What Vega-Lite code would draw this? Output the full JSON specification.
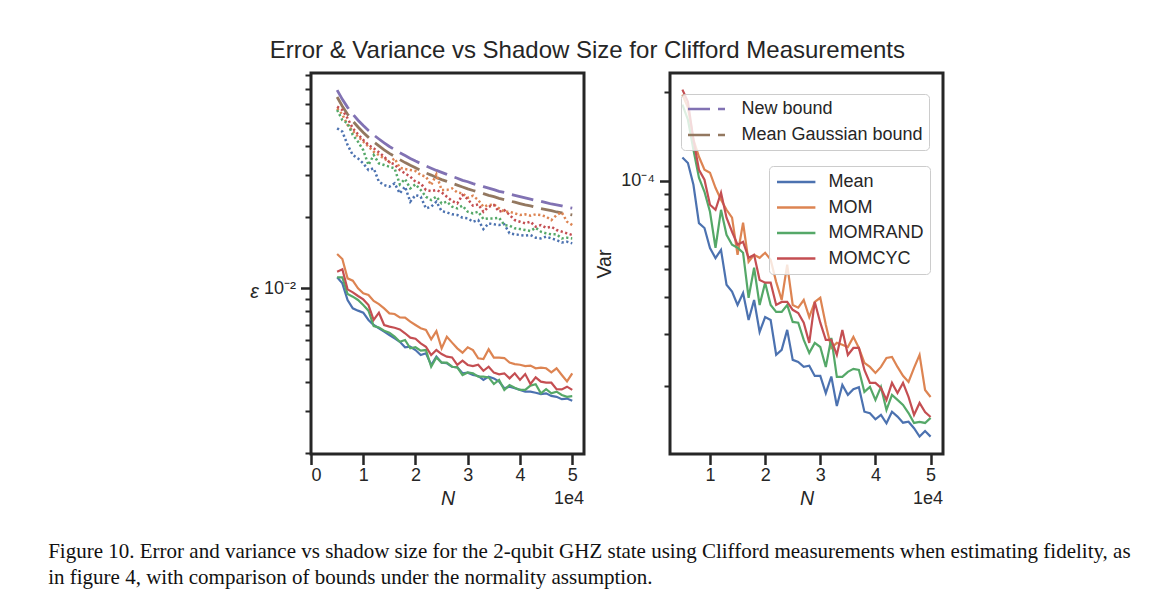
{
"$schema": "https://vega.github.io/schema/vega-lite/v6.json",
"background": "white",
"padding": {"left": 48, "top": 39, "right": 10, "bottom": 10},
"config": {
  "font": "Liberation Sans",
  "view": {"stroke": "#262626", "strokeWidth": 3},
  "axis": {"domain": false, "grid": false, "labelFont": "Liberation Sans", "labelFontSize": 18, "labelColor": "#262626", "titleFont": "Liberation Sans", "titleFontSize": 19.6, "titleFontWeight": "normal", "titleColor": "#262626", "tickColor": "#262626", "tickWidth": 2.5, "tickSize": 10.5, "labelPadding": 5, "labelOverlap": false},
  "legend": {"labelFont": "Liberation Sans", "labelFontSize": 18, "labelColor": "#262626", "labelLimit": 400, "strokeColor": "#cccccc", "fillColor": "rgba(255,255,255,0.8)", "cornerRadius": 4, "padding": 5.5, "symbolSize": 256},
  "title": {"font": "Liberation Sans", "color": "#262626", "fontWeight": "normal"}
},
"title": {"text": ["Figure 10. Error and variance vs shadow size for the 2-qubit GHZ state using Clifford measurements when estimating fidelity, as", "in figure 4, with comparison of bounds under the normality assumption."], "orient": "bottom", "anchor": "start", "font": "Liberation Serif", "fontSize": 21, "fontWeight": "normal", "color": "#111111", "lineHeight": 26, "dx": -200, "offset": 31},
"vconcat": [{
  "title": {"text": "Error & Variance vs Shadow Size for Clifford Measurements", "fontSize": 24, "anchor": "middle", "offset": 1, "dx": -9},
  "spacing": 7,
  "resolve": {"scale": {"color": "independent", "stroke": "independent"}, "legend": {"color": "independent", "stroke": "independent"}},
  "hconcat": [
    {
      "width": 273, "height": 381,
      "title": {"text": "1e4", "orient": "bottom", "anchor": "end", "frame": "group", "fontSize": 18, "offset": -18},
      "encoding": {
        "x": {"field": "N", "type": "quantitative", "scale": {"domain": [0, 52250], "nice": false, "zero": false}, "axis": {"title": "N", "titleFontStyle": "italic", "values": [0, 10000, 20000, 30000, 40000, 50000], "labelExpr": "format(datum.value/10000,'d')", "labelPadding": 2, "titlePadding": 5}},
        "y": {"field": "value", "type": "quantitative", "scale": {"type": "log", "domain": [0.00198, 0.0815], "nice": false}, "axis": {"title": "ε", "titleFontStyle": "italic", "titleAngle": 0, "titleAlign": "center", "titleBaseline": "middle", "titleX": -57, "titleY": 218, "values": [0.002, 0.003, 0.004, 0.005, 0.006, 0.007, 0.008, 0.009, 0.01, 0.02, 0.03, 0.04, 0.05, 0.06, 0.07, 0.08], "labelExpr": "abs(datum.value-0.01)<1e-9 ? '10⁻²' : ''", "tickSize": {"condition": {"test": "abs(datum.value-0.01)<1e-9", "value": 10.5}, "value": 6}, "tickWidth": {"condition": {"test": "abs(datum.value-0.01)<1e-9", "value": 2.5}, "value": 2}}}
      },
      "layer": [
        {"data": {"name": "bounds"}, "mark": {"type": "line", "strokeDash": [22, 8], "strokeWidth": 2.8}, "encoding": {"stroke": {"field": "series", "type": "nominal", "scale": {"domain": ["New bound", "Mean Gaussian bound"], "range": ["#8172B3", "#937860"]}, "legend": null}}},
        {"data": {"name": "errbound"}, "mark": {"type": "line", "strokeDash": [2.2, 2.5], "strokeWidth": 2.5}, "encoding": {"color": {"field": "series", "type": "nominal", "scale": {"domain": ["Mean", "MOM", "MOMRAND", "MOMCYC"], "range": ["#4C72B0", "#DD8452", "#55A868", "#C44E52"]}, "legend": null}}},
        {"data": {"name": "err"}, "mark": {"type": "line", "strokeWidth": 2.2}, "encoding": {"color": {"field": "series", "type": "nominal", "scale": {"domain": ["Mean", "MOM", "MOMRAND", "MOMCYC"], "range": ["#4C72B0", "#DD8452", "#55A868", "#C44E52"]}, "legend": null}}}
      ]
    },
    {
      "width": 273, "height": 381,
      "title": {"text": "1e4", "orient": "bottom", "anchor": "end", "frame": "group", "fontSize": 18, "offset": -18},
      "encoding": {
        "x": {"field": "N", "type": "quantitative", "scale": {"domain": [2750, 52250], "nice": false, "zero": false}, "axis": {"title": "N", "titleFontStyle": "italic", "values": [10000, 20000, 30000, 40000, 50000], "labelExpr": "format(datum.value/10000,'d')", "labelPadding": 2, "titlePadding": 5}},
        "y": {"field": "value", "type": "quantitative", "scale": {"type": "log", "domain": [1.17e-5, 2.33e-4], "nice": false}, "axis": {"title": "Var", "titlePadding": 6, "values": [2e-5, 3e-5, 4e-5, 5e-5, 6e-5, 7e-5, 8e-5, 9e-5, 1e-4, 2e-4], "labelExpr": "abs(datum.value-1e-4)<1e-12 ? '10⁻⁴' : ''", "tickSize": {"condition": {"test": "abs(datum.value-1e-4)<1e-12", "value": 10.5}, "value": 6}, "tickWidth": {"condition": {"test": "abs(datum.value-1e-4)<1e-12", "value": 2.5}, "value": 2}}}
      },
      "layer": [
        {"data": {"name": "var"}, "mark": {"type": "line", "strokeWidth": 2.2}, "encoding": {"color": {"field": "series", "type": "nominal", "scale": {"domain": ["Mean", "MOM", "MOMRAND", "MOMCYC"], "range": ["#4C72B0", "#DD8452", "#55A868", "#C44E52"]}, "legend": {"orient": "none", "legendX": 99, "legendY": 93, "title": null, "symbolType": "M-1,0H3.8", "symbolStrokeWidth": 2.3, "labelOffset": 34, "rowPadding": 6.5, "padding": 6.5}}}},
        {"data": {"name": "bounds"}, "transform": [{"filter": "datum.N < 0"}], "mark": {"type": "line", "strokeDash": [22, 8], "strokeWidth": 2.8}, "encoding": {"stroke": {"field": "series", "type": "nominal", "scale": {"domain": ["New bound", "Mean Gaussian bound"], "range": ["#8172B3", "#937860"]}, "legend": {"orient": "none", "legendX": 11, "legendY": 21, "title": null, "symbolType": "M-1,0H3.625", "symbolDash": [22, 8], "symbolStrokeWidth": 2.5, "labelOffset": 36, "rowPadding": 7}}}}
      ]
    }
  ]
}],
"datasets": {
"err": [
{"N":5000,"series":"Mean","value":0.0111},{"N":6000,"series":"Mean","value":0.01047},{"N":7000,"series":"Mean","value":0.0089},{"N":8000,"series":"Mean","value":0.0082},{"N":9000,"series":"Mean","value":0.00802},{"N":10000,"series":"Mean","value":0.00786},{"N":11000,"series":"Mean","value":0.00732},{"N":12000,"series":"Mean","value":0.00697},{"N":13000,"series":"Mean","value":0.00675},{"N":14000,"series":"Mean","value":0.00653},{"N":15000,"series":"Mean","value":0.00632},{"N":16000,"series":"Mean","value":0.00612},{"N":17000,"series":"Mean","value":0.00592},{"N":18000,"series":"Mean","value":0.00561},{"N":19000,"series":"Mean","value":0.00564},{"N":20000,"series":"Mean","value":0.00546},{"N":21000,"series":"Mean","value":0.0052},{"N":22000,"series":"Mean","value":0.00529},{"N":23000,"series":"Mean","value":0.00472},{"N":24000,"series":"Mean","value":0.00512},{"N":25000,"series":"Mean","value":0.00483},{"N":26000,"series":"Mean","value":0.0048},{"N":27000,"series":"Mean","value":0.00464},{"N":28000,"series":"Mean","value":0.00461},{"N":29000,"series":"Mean","value":0.00435},{"N":30000,"series":"Mean","value":0.00438},{"N":31000,"series":"Mean","value":0.00428},{"N":32000,"series":"Mean","value":0.00424},{"N":33000,"series":"Mean","value":0.00408},{"N":34000,"series":"Mean","value":0.00421},{"N":35000,"series":"Mean","value":0.00414},{"N":36000,"series":"Mean","value":0.00401},{"N":37000,"series":"Mean","value":0.00376},{"N":38000,"series":"Mean","value":0.00382},{"N":39000,"series":"Mean","value":0.00376},{"N":40000,"series":"Mean","value":0.0037},{"N":41000,"series":"Mean","value":0.00364},{"N":42000,"series":"Mean","value":0.00364},{"N":43000,"series":"Mean","value":0.0036},{"N":44000,"series":"Mean","value":0.00355},{"N":45000,"series":"Mean","value":0.00358},{"N":46000,"series":"Mean","value":0.00349},{"N":47000,"series":"Mean","value":0.00346},{"N":48000,"series":"Mean","value":0.00338},{"N":49000,"series":"Mean","value":0.0034},{"N":50000,"series":"Mean","value":0.00333},
{"N":5000,"series":"MOM","value":0.01393},{"N":6000,"series":"MOM","value":0.01327},{"N":7000,"series":"MOM","value":0.01099},{"N":8000,"series":"MOM","value":0.01074},{"N":9000,"series":"MOM","value":0.00997},{"N":10000,"series":"MOM","value":0.00949},{"N":11000,"series":"MOM","value":0.00934},{"N":12000,"series":"MOM","value":0.00881},{"N":13000,"series":"MOM","value":0.00855},{"N":14000,"series":"MOM","value":0.0082},{"N":15000,"series":"MOM","value":0.00781},{"N":16000,"series":"MOM","value":0.00776},{"N":17000,"series":"MOM","value":0.00751},{"N":18000,"series":"MOM","value":0.00749},{"N":19000,"series":"MOM","value":0.0072},{"N":20000,"series":"MOM","value":0.00697},{"N":21000,"series":"MOM","value":0.00675},{"N":22000,"series":"MOM","value":0.00664},{"N":23000,"series":"MOM","value":0.00606},{"N":24000,"series":"MOM","value":0.00657},{"N":25000,"series":"MOM","value":0.00555},{"N":26000,"series":"MOM","value":0.00622},{"N":27000,"series":"MOM","value":0.00587},{"N":28000,"series":"MOM","value":0.00555},{"N":29000,"series":"MOM","value":0.00532},{"N":30000,"series":"MOM","value":0.00561},{"N":31000,"series":"MOM","value":0.00546},{"N":32000,"series":"MOM","value":0.00504},{"N":33000,"series":"MOM","value":0.005},{"N":34000,"series":"MOM","value":0.0055},{"N":35000,"series":"MOM","value":0.00507},{"N":36000,"series":"MOM","value":0.00507},{"N":37000,"series":"MOM","value":0.00505},{"N":38000,"series":"MOM","value":0.00483},{"N":39000,"series":"MOM","value":0.00476},{"N":40000,"series":"MOM","value":0.00473},{"N":41000,"series":"MOM","value":0.00467},{"N":42000,"series":"MOM","value":0.00469},{"N":43000,"series":"MOM","value":0.00457},{"N":44000,"series":"MOM","value":0.0046},{"N":45000,"series":"MOM","value":0.00457},{"N":46000,"series":"MOM","value":0.00439},{"N":47000,"series":"MOM","value":0.00457},{"N":48000,"series":"MOM","value":0.00428},{"N":49000,"series":"MOM","value":0.00402},{"N":50000,"series":"MOM","value":0.00435},
{"N":5000,"series":"MOMRAND","value":0.0111},{"N":6000,"series":"MOMRAND","value":0.0111},{"N":7000,"series":"MOMRAND","value":0.00943},{"N":8000,"series":"MOMRAND","value":0.00919},{"N":9000,"series":"MOMRAND","value":0.0089},{"N":10000,"series":"MOMRAND","value":0.00847},{"N":11000,"series":"MOMRAND","value":0.00802},{"N":12000,"series":"MOMRAND","value":0.0069},{"N":13000,"series":"MOMRAND","value":0.00681},{"N":14000,"series":"MOMRAND","value":0.00659},{"N":15000,"series":"MOMRAND","value":0.00647},{"N":16000,"series":"MOMRAND","value":0.00622},{"N":17000,"series":"MOMRAND","value":0.00592},{"N":18000,"series":"MOMRAND","value":0.00602},{"N":19000,"series":"MOMRAND","value":0.00555},{"N":20000,"series":"MOMRAND","value":0.00561},{"N":21000,"series":"MOMRAND","value":0.00543},{"N":22000,"series":"MOMRAND","value":0.00546},{"N":23000,"series":"MOMRAND","value":0.00464},{"N":24000,"series":"MOMRAND","value":0.00508},{"N":25000,"series":"MOMRAND","value":0.00483},{"N":26000,"series":"MOMRAND","value":0.00483},{"N":27000,"series":"MOMRAND","value":0.00464},{"N":28000,"series":"MOMRAND","value":0.00461},{"N":29000,"series":"MOMRAND","value":0.00428},{"N":30000,"series":"MOMRAND","value":0.00439},{"N":31000,"series":"MOMRAND","value":0.00435},{"N":32000,"series":"MOMRAND","value":0.00421},{"N":33000,"series":"MOMRAND","value":0.00421},{"N":34000,"series":"MOMRAND","value":0.00418},{"N":35000,"series":"MOMRAND","value":0.00392},{"N":36000,"series":"MOMRAND","value":0.00408},{"N":37000,"series":"MOMRAND","value":0.0037},{"N":38000,"series":"MOMRAND","value":0.00388},{"N":39000,"series":"MOMRAND","value":0.00378},{"N":40000,"series":"MOMRAND","value":0.0037},{"N":41000,"series":"MOMRAND","value":0.0037},{"N":42000,"series":"MOMRAND","value":0.00386},{"N":43000,"series":"MOMRAND","value":0.00391},{"N":44000,"series":"MOMRAND","value":0.00358},{"N":45000,"series":"MOMRAND","value":0.00373},{"N":46000,"series":"MOMRAND","value":0.00358},{"N":47000,"series":"MOMRAND","value":0.00364},{"N":48000,"series":"MOMRAND","value":0.00352},{"N":49000,"series":"MOMRAND","value":0.00346},{"N":50000,"series":"MOMRAND","value":0.00348},
{"N":5000,"series":"MOMCYC","value":0.01173},{"N":6000,"series":"MOMCYC","value":0.012},{"N":7000,"series":"MOMCYC","value":0.00987},{"N":8000,"series":"MOMCYC","value":0.00959},{"N":9000,"series":"MOMCYC","value":0.00925},{"N":10000,"series":"MOMCYC","value":0.00895},{"N":11000,"series":"MOMCYC","value":0.00847},{"N":12000,"series":"MOMCYC","value":0.00732},{"N":13000,"series":"MOMCYC","value":0.00786},{"N":14000,"series":"MOMCYC","value":0.00697},{"N":15000,"series":"MOMCYC","value":0.00686},{"N":16000,"series":"MOMCYC","value":0.00679},{"N":17000,"series":"MOMCYC","value":0.00668},{"N":18000,"series":"MOMCYC","value":0.00643},{"N":19000,"series":"MOMCYC","value":0.00616},{"N":20000,"series":"MOMCYC","value":0.0061},{"N":21000,"series":"MOMCYC","value":0.00583},{"N":22000,"series":"MOMCYC","value":0.00564},{"N":23000,"series":"MOMCYC","value":0.0052},{"N":24000,"series":"MOMCYC","value":0.00546},{"N":25000,"series":"MOMCYC","value":0.00525},{"N":26000,"series":"MOMCYC","value":0.00512},{"N":27000,"series":"MOMCYC","value":0.00508},{"N":28000,"series":"MOMCYC","value":0.00472},{"N":29000,"series":"MOMCYC","value":0.00492},{"N":30000,"series":"MOMCYC","value":0.00472},{"N":31000,"series":"MOMCYC","value":0.00467},{"N":32000,"series":"MOMCYC","value":0.00473},{"N":33000,"series":"MOMCYC","value":0.00446},{"N":34000,"series":"MOMCYC","value":0.00464},{"N":35000,"series":"MOMCYC","value":0.00438},{"N":36000,"series":"MOMCYC","value":0.00431},{"N":37000,"series":"MOMCYC","value":0.00435},{"N":38000,"series":"MOMCYC","value":0.00414},{"N":39000,"series":"MOMCYC","value":0.00435},{"N":40000,"series":"MOMCYC","value":0.00408},{"N":41000,"series":"MOMCYC","value":0.00432},{"N":42000,"series":"MOMCYC","value":0.00392},{"N":43000,"series":"MOMCYC","value":0.00418},{"N":44000,"series":"MOMCYC","value":0.00401},{"N":45000,"series":"MOMCYC","value":0.00397},{"N":46000,"series":"MOMCYC","value":0.00397},{"N":47000,"series":"MOMCYC","value":0.00373},{"N":48000,"series":"MOMCYC","value":0.00372},{"N":49000,"series":"MOMCYC","value":0.00382},{"N":50000,"series":"MOMCYC","value":0.0037}
],
"errbound": [
{"N":5000,"series":"Mean","value":0.0475},{"N":6000,"series":"Mean","value":0.046},{"N":7000,"series":"Mean","value":0.0404},{"N":8000,"series":"Mean","value":0.0366},{"N":9000,"series":"Mean","value":0.0354},{"N":10000,"series":"Mean","value":0.03374},{"N":11000,"series":"Mean","value":0.03162},{"N":12000,"series":"Mean","value":0.03214},{"N":13000,"series":"Mean","value":0.02822},{"N":14000,"series":"Mean","value":0.02732},{"N":15000,"series":"Mean","value":0.02688},{"N":16000,"series":"Mean","value":0.02776},{"N":17000,"series":"Mean","value":0.02518},{"N":18000,"series":"Mean","value":0.02688},{"N":19000,"series":"Mean","value":0.02322},{"N":20000,"series":"Mean","value":0.02478},{"N":21000,"series":"Mean","value":0.02438},{"N":22000,"series":"Mean","value":0.02175},{"N":23000,"series":"Mean","value":0.02211},{"N":24000,"series":"Mean","value":0.02322},{"N":25000,"series":"Mean","value":0.02119},{"N":26000,"series":"Mean","value":0.02092},{"N":27000,"series":"Mean","value":0.02052},{"N":28000,"series":"Mean","value":0.02039},{"N":29000,"series":"Mean","value":0.01986},{"N":30000,"series":"Mean","value":0.01973},{"N":31000,"series":"Mean","value":0.0191},{"N":32000,"series":"Mean","value":0.01941},{"N":33000,"series":"Mean","value":0.01778},{"N":34000,"series":"Mean","value":0.01879},{"N":35000,"series":"Mean","value":0.01861},{"N":36000,"series":"Mean","value":0.01849},{"N":37000,"series":"Mean","value":0.01861},{"N":38000,"series":"Mean","value":0.01705},{"N":39000,"series":"Mean","value":0.01688},{"N":40000,"series":"Mean","value":0.01677},{"N":41000,"series":"Mean","value":0.01667},{"N":42000,"series":"Mean","value":0.01677},{"N":43000,"series":"Mean","value":0.01634},{"N":44000,"series":"Mean","value":0.01623},{"N":45000,"series":"Mean","value":0.0165},{"N":46000,"series":"Mean","value":0.01623},{"N":47000,"series":"Mean","value":0.01597},{"N":48000,"series":"Mean","value":0.01561},{"N":49000,"series":"Mean","value":0.01571},{"N":50000,"series":"Mean","value":0.01546},
{"N":5000,"series":"MOM","value":0.0577},{"N":6000,"series":"MOM","value":0.0544},{"N":7000,"series":"MOM","value":0.0491},{"N":8000,"series":"MOM","value":0.0463},{"N":9000,"series":"MOM","value":0.0438},{"N":10000,"series":"MOM","value":0.0417},{"N":11000,"series":"MOM","value":0.0397},{"N":12000,"series":"MOM","value":0.0378},{"N":13000,"series":"MOM","value":0.0366},{"N":14000,"series":"MOM","value":0.0354},{"N":15000,"series":"MOM","value":0.0341},{"N":16000,"series":"MOM","value":0.0354},{"N":17000,"series":"MOM","value":0.03235},{"N":18000,"series":"MOM","value":0.03193},{"N":19000,"series":"MOM","value":0.03162},{"N":20000,"series":"MOM","value":0.03132},{"N":21000,"series":"MOM","value":0.03011},{"N":22000,"series":"MOM","value":0.02963},{"N":23000,"series":"MOM","value":0.02732},{"N":24000,"series":"MOM","value":0.03031},{"N":25000,"series":"MOM","value":0.02602},{"N":26000,"series":"MOM","value":0.02602},{"N":27000,"series":"MOM","value":0.02644},{"N":28000,"series":"MOM","value":0.02543},{"N":29000,"series":"MOM","value":0.02518},{"N":30000,"series":"MOM","value":0.02414},{"N":31000,"series":"MOM","value":0.02461},{"N":32000,"series":"MOM","value":0.0236},{"N":33000,"series":"MOM","value":0.02211},{"N":34000,"series":"MOM","value":0.02247},{"N":35000,"series":"MOM","value":0.02262},{"N":36000,"series":"MOM","value":0.02175},{"N":37000,"series":"MOM","value":0.02105},{"N":38000,"series":"MOM","value":0.02105},{"N":39000,"series":"MOM","value":0.02072},{"N":40000,"series":"MOM","value":0.02039},{"N":41000,"series":"MOM","value":0.02052},{"N":42000,"series":"MOM","value":0.02026},{"N":43000,"series":"MOM","value":0.02052},{"N":44000,"series":"MOM","value":0.02039},{"N":45000,"series":"MOM","value":0.02006},{"N":46000,"series":"MOM","value":0.01941},{"N":47000,"series":"MOM","value":0.02039},{"N":48000,"series":"MOM","value":0.02092},{"N":49000,"series":"MOM","value":0.0191},{"N":50000,"series":"MOM","value":0.01849},
{"N":5000,"series":"MOMRAND","value":0.0568},{"N":6000,"series":"MOMRAND","value":0.0515},{"N":7000,"series":"MOMRAND","value":0.0499},{"N":8000,"series":"MOMRAND","value":0.0445},{"N":9000,"series":"MOMRAND","value":0.0417},{"N":10000,"series":"MOMRAND","value":0.0384},{"N":11000,"series":"MOMRAND","value":0.0332},{"N":12000,"series":"MOMRAND","value":0.0366},{"N":13000,"series":"MOMRAND","value":0.03374},{"N":14000,"series":"MOMRAND","value":0.0332},{"N":15000,"series":"MOMRAND","value":0.03267},{"N":16000,"series":"MOMRAND","value":0.03214},{"N":17000,"series":"MOMRAND","value":0.0275},{"N":18000,"series":"MOMRAND","value":0.02896},{"N":19000,"series":"MOMRAND","value":0.02644},{"N":20000,"series":"MOMRAND","value":0.0275},{"N":21000,"series":"MOMRAND","value":0.02602},{"N":22000,"series":"MOMRAND","value":0.02438},{"N":23000,"series":"MOMRAND","value":0.0236},{"N":24000,"series":"MOMRAND","value":0.02438},{"N":25000,"series":"MOMRAND","value":0.02284},{"N":26000,"series":"MOMRAND","value":0.02322},{"N":27000,"series":"MOMRAND","value":0.02211},{"N":28000,"series":"MOMRAND","value":0.02175},{"N":29000,"series":"MOMRAND","value":0.02233},{"N":30000,"series":"MOMRAND","value":0.02105},{"N":31000,"series":"MOMRAND","value":0.02072},{"N":32000,"series":"MOMRAND","value":0.02105},{"N":33000,"series":"MOMRAND","value":0.0196},{"N":34000,"series":"MOMRAND","value":0.01973},{"N":35000,"series":"MOMRAND","value":0.01973},{"N":36000,"series":"MOMRAND","value":0.01986},{"N":37000,"series":"MOMRAND","value":0.01849},{"N":38000,"series":"MOMRAND","value":0.01837},{"N":39000,"series":"MOMRAND","value":0.0179},{"N":40000,"series":"MOMRAND","value":0.01778},{"N":41000,"series":"MOMRAND","value":0.01761},{"N":42000,"series":"MOMRAND","value":0.01744},{"N":43000,"series":"MOMRAND","value":0.01801},{"N":44000,"series":"MOMRAND","value":0.01733},{"N":45000,"series":"MOMRAND","value":0.01705},{"N":46000,"series":"MOMRAND","value":0.01688},{"N":47000,"series":"MOMRAND","value":0.01688},{"N":48000,"series":"MOMRAND","value":0.01623},{"N":49000,"series":"MOMRAND","value":0.01634},{"N":50000,"series":"MOMRAND","value":0.01623},
{"N":5000,"series":"MOMCYC","value":0.0587},{"N":6000,"series":"MOMCYC","value":0.0568},{"N":7000,"series":"MOMCYC","value":0.0524},{"N":8000,"series":"MOMCYC","value":0.0475},{"N":9000,"series":"MOMCYC","value":0.0448},{"N":10000,"series":"MOMCYC","value":0.0424},{"N":11000,"series":"MOMCYC","value":0.0404},{"N":12000,"series":"MOMCYC","value":0.0391},{"N":13000,"series":"MOMCYC","value":0.0376},{"N":14000,"series":"MOMCYC","value":0.036},{"N":15000,"series":"MOMCYC","value":0.0341},{"N":16000,"series":"MOMCYC","value":0.03342},{"N":17000,"series":"MOMCYC","value":0.03162},{"N":18000,"series":"MOMCYC","value":0.03061},{"N":19000,"series":"MOMCYC","value":0.02963},{"N":20000,"series":"MOMCYC","value":0.02822},{"N":21000,"series":"MOMCYC","value":0.02776},{"N":22000,"series":"MOMCYC","value":0.02602},{"N":23000,"series":"MOMCYC","value":0.02576},{"N":24000,"series":"MOMCYC","value":0.02602},{"N":25000,"series":"MOMCYC","value":0.02543},{"N":26000,"series":"MOMCYC","value":0.02438},{"N":27000,"series":"MOMCYC","value":0.02337},{"N":28000,"series":"MOMCYC","value":0.02284},{"N":29000,"series":"MOMCYC","value":0.02478},{"N":30000,"series":"MOMCYC","value":0.02383},{"N":31000,"series":"MOMCYC","value":0.02233},{"N":32000,"series":"MOMCYC","value":0.02262},{"N":33000,"series":"MOMCYC","value":0.02105},{"N":34000,"series":"MOMCYC","value":0.02211},{"N":35000,"series":"MOMCYC","value":0.02247},{"N":36000,"series":"MOMCYC","value":0.02105},{"N":37000,"series":"MOMCYC","value":0.0214},{"N":38000,"series":"MOMCYC","value":0.02039},{"N":39000,"series":"MOMCYC","value":0.01941},{"N":40000,"series":"MOMCYC","value":0.0191},{"N":41000,"series":"MOMCYC","value":0.01879},{"N":42000,"series":"MOMCYC","value":0.0191},{"N":43000,"series":"MOMCYC","value":0.01819},{"N":44000,"series":"MOMCYC","value":0.01849},{"N":45000,"series":"MOMCYC","value":0.01801},{"N":46000,"series":"MOMCYC","value":0.01819},{"N":47000,"series":"MOMCYC","value":0.01761},{"N":48000,"series":"MOMCYC","value":0.01733},{"N":49000,"series":"MOMCYC","value":0.01705},{"N":50000,"series":"MOMCYC","value":0.01677}
],
"bounds": [
{"N":5000,"series":"New bound","value":0.069},{"N":6000,"series":"New bound","value":0.063},{"N":7000,"series":"New bound","value":0.0583},{"N":8000,"series":"New bound","value":0.0546},{"N":9000,"series":"New bound","value":0.0514},{"N":10000,"series":"New bound","value":0.0488},{"N":11000,"series":"New bound","value":0.0465},{"N":12000,"series":"New bound","value":0.0445},{"N":13000,"series":"New bound","value":0.0428},{"N":14000,"series":"New bound","value":0.0412},{"N":15000,"series":"New bound","value":0.0398},{"N":16000,"series":"New bound","value":0.0386},{"N":17000,"series":"New bound","value":0.0374},{"N":18000,"series":"New bound","value":0.0364},{"N":19000,"series":"New bound","value":0.0354},{"N":20000,"series":"New bound","value":0.0345},{"N":21000,"series":"New bound","value":0.0337},{"N":22000,"series":"New bound","value":0.0329},{"N":23000,"series":"New bound","value":0.0322},{"N":24000,"series":"New bound","value":0.0315},{"N":25000,"series":"New bound","value":0.0309},{"N":26000,"series":"New bound","value":0.0303},{"N":27000,"series":"New bound","value":0.0297},{"N":28000,"series":"New bound","value":0.0292},{"N":29000,"series":"New bound","value":0.0286},{"N":30000,"series":"New bound","value":0.0282},{"N":31000,"series":"New bound","value":0.0277},{"N":32000,"series":"New bound","value":0.0273},{"N":33000,"series":"New bound","value":0.0269},{"N":34000,"series":"New bound","value":0.0265},{"N":35000,"series":"New bound","value":0.0261},{"N":36000,"series":"New bound","value":0.0257},{"N":37000,"series":"New bound","value":0.0254},{"N":38000,"series":"New bound","value":0.025},{"N":39000,"series":"New bound","value":0.0247},{"N":40000,"series":"New bound","value":0.0244},{"N":41000,"series":"New bound","value":0.0241},{"N":42000,"series":"New bound","value":0.0238},{"N":43000,"series":"New bound","value":0.0235},{"N":44000,"series":"New bound","value":0.0233},{"N":45000,"series":"New bound","value":0.023},{"N":46000,"series":"New bound","value":0.0227},{"N":47000,"series":"New bound","value":0.0225},{"N":48000,"series":"New bound","value":0.0223},{"N":49000,"series":"New bound","value":0.022},{"N":50000,"series":"New bound","value":0.0218},
{"N":5000,"series":"Mean Gaussian bound","value":0.0645},{"N":6000,"series":"Mean Gaussian bound","value":0.0589},{"N":7000,"series":"Mean Gaussian bound","value":0.0545},{"N":8000,"series":"Mean Gaussian bound","value":0.051},{"N":9000,"series":"Mean Gaussian bound","value":0.0481},{"N":10000,"series":"Mean Gaussian bound","value":0.0456},{"N":11000,"series":"Mean Gaussian bound","value":0.0435},{"N":12000,"series":"Mean Gaussian bound","value":0.0416},{"N":13000,"series":"Mean Gaussian bound","value":0.04},{"N":14000,"series":"Mean Gaussian bound","value":0.0385},{"N":15000,"series":"Mean Gaussian bound","value":0.0372},{"N":16000,"series":"Mean Gaussian bound","value":0.0361},{"N":17000,"series":"Mean Gaussian bound","value":0.035},{"N":18000,"series":"Mean Gaussian bound","value":0.034},{"N":19000,"series":"Mean Gaussian bound","value":0.0331},{"N":20000,"series":"Mean Gaussian bound","value":0.0323},{"N":21000,"series":"Mean Gaussian bound","value":0.0315},{"N":22000,"series":"Mean Gaussian bound","value":0.0307},{"N":23000,"series":"Mean Gaussian bound","value":0.0301},{"N":24000,"series":"Mean Gaussian bound","value":0.0294},{"N":25000,"series":"Mean Gaussian bound","value":0.0288},{"N":26000,"series":"Mean Gaussian bound","value":0.0283},{"N":27000,"series":"Mean Gaussian bound","value":0.0278},{"N":28000,"series":"Mean Gaussian bound","value":0.0273},{"N":29000,"series":"Mean Gaussian bound","value":0.0268},{"N":30000,"series":"Mean Gaussian bound","value":0.0263},{"N":31000,"series":"Mean Gaussian bound","value":0.0259},{"N":32000,"series":"Mean Gaussian bound","value":0.0255},{"N":33000,"series":"Mean Gaussian bound","value":0.0251},{"N":34000,"series":"Mean Gaussian bound","value":0.0247},{"N":35000,"series":"Mean Gaussian bound","value":0.0244},{"N":36000,"series":"Mean Gaussian bound","value":0.024},{"N":37000,"series":"Mean Gaussian bound","value":0.0237},{"N":38000,"series":"Mean Gaussian bound","value":0.0234},{"N":39000,"series":"Mean Gaussian bound","value":0.0231},{"N":40000,"series":"Mean Gaussian bound","value":0.0228},{"N":41000,"series":"Mean Gaussian bound","value":0.0225},{"N":42000,"series":"Mean Gaussian bound","value":0.0223},{"N":43000,"series":"Mean Gaussian bound","value":0.022},{"N":44000,"series":"Mean Gaussian bound","value":0.0217},{"N":45000,"series":"Mean Gaussian bound","value":0.0215},{"N":46000,"series":"Mean Gaussian bound","value":0.0213},{"N":47000,"series":"Mean Gaussian bound","value":0.021},{"N":48000,"series":"Mean Gaussian bound","value":0.0208},{"N":49000,"series":"Mean Gaussian bound","value":0.0206},{"N":50000,"series":"Mean Gaussian bound","value":0.0204}
],
"var": [
{"N":5000,"series":"Mean","value":1.201e-4},{"N":6000,"series":"Mean","value":1.149e-4},{"N":7000,"series":"Mean","value":9.69e-5},{"N":8000,"series":"Mean","value":7.17e-5},{"N":9000,"series":"Mean","value":6.9e-5},{"N":10000,"series":"Mean","value":5.89e-5},{"N":11000,"series":"Mean","value":5.45e-5},{"N":12000,"series":"Mean","value":5.81e-5},{"N":13000,"series":"Mean","value":4.42e-5},{"N":14000,"series":"Mean","value":4.19e-5},{"N":15000,"series":"Mean","value":3.77e-5},{"N":16000,"series":"Mean","value":4.14e-5},{"N":17000,"series":"Mean","value":3.35e-5},{"N":18000,"series":"Mean","value":3.92e-5},{"N":19000,"series":"Mean","value":3.05e-5},{"N":20000,"series":"Mean","value":3.43e-5},{"N":21000,"series":"Mean","value":3.35e-5},{"N":22000,"series":"Mean","value":2.55e-5},{"N":23000,"series":"Mean","value":2.65e-5},{"N":24000,"series":"Mean","value":3.1e-5},{"N":25000,"series":"Mean","value":2.45e-5},{"N":26000,"series":"Mean","value":2.41e-5},{"N":27000,"series":"Mean","value":2.32e-5},{"N":28000,"series":"Mean","value":2.34e-5},{"N":29000,"series":"Mean","value":2.16e-5},{"N":30000,"series":"Mean","value":2.16e-5},{"N":31000,"series":"Mean","value":1.886e-5},{"N":32000,"series":"Mean","value":2.15e-5},{"N":33000,"series":"Mean","value":1.706e-5},{"N":34000,"series":"Mean","value":2.012e-5},{"N":35000,"series":"Mean","value":1.861e-5},{"N":36000,"series":"Mean","value":1.946e-5},{"N":37000,"series":"Mean","value":1.977e-5},{"N":38000,"series":"Mean","value":1.631e-5},{"N":39000,"series":"Mean","value":1.611e-5},{"N":40000,"series":"Mean","value":1.537e-5},{"N":41000,"series":"Mean","value":1.59e-5},{"N":42000,"series":"Mean","value":1.489e-5},{"N":43000,"series":"Mean","value":1.631e-5},{"N":44000,"series":"Mean","value":1.569e-5},{"N":45000,"series":"Mean","value":1.496e-5},{"N":46000,"series":"Mean","value":1.508e-5},{"N":47000,"series":"Mean","value":1.432e-5},{"N":48000,"series":"Mean","value":1.341e-5},{"N":49000,"series":"Mean","value":1.402e-5},{"N":50000,"series":"Mean","value":1.341e-5},
{"N":5000,"series":"MOM","value":1.966e-4},{"N":6000,"series":"MOM","value":1.775e-4},{"N":7000,"series":"MOM","value":1.38e-4},{"N":8000,"series":"MOM","value":1.207e-4},{"N":9000,"series":"MOM","value":1.09e-4},{"N":10000,"series":"MOM","value":1.065e-4},{"N":11000,"series":"MOM","value":9.46e-5},{"N":12000,"series":"MOM","value":8.61e-5},{"N":13000,"series":"MOM","value":7.96e-5},{"N":14000,"series":"MOM","value":7.48e-5},{"N":15000,"series":"MOM","value":5.59e-5},{"N":16000,"series":"MOM","value":7.19e-5},{"N":17000,"series":"MOM","value":5.29e-5},{"N":18000,"series":"MOM","value":5.59e-5},{"N":19000,"series":"MOM","value":5.46e-5},{"N":20000,"series":"MOM","value":5.68e-5},{"N":21000,"series":"MOM","value":5.38e-5},{"N":22000,"series":"MOM","value":4.52e-5},{"N":23000,"series":"MOM","value":3.92e-5},{"N":24000,"series":"MOM","value":5.17e-5},{"N":25000,"series":"MOM","value":3.77e-5},{"N":26000,"series":"MOM","value":3.69e-5},{"N":27000,"series":"MOM","value":3.92e-5},{"N":28000,"series":"MOM","value":3.43e-5},{"N":29000,"series":"MOM","value":3.86e-5},{"N":30000,"series":"MOM","value":3.99e-5},{"N":31000,"series":"MOM","value":3.23e-5},{"N":32000,"series":"MOM","value":2.69e-5},{"N":33000,"series":"MOM","value":2.8e-5},{"N":34000,"series":"MOM","value":2.76e-5},{"N":35000,"series":"MOM","value":2.71e-5},{"N":36000,"series":"MOM","value":2.935e-5},{"N":37000,"series":"MOM","value":2.69e-5},{"N":38000,"series":"MOM","value":2.392e-5},{"N":39000,"series":"MOM","value":2.318e-5},{"N":40000,"series":"MOM","value":2.212e-5},{"N":41000,"series":"MOM","value":2.318e-5},{"N":42000,"series":"MOM","value":2.488e-5},{"N":43000,"series":"MOM","value":2.507e-5},{"N":44000,"series":"MOM","value":2.318e-5},{"N":45000,"series":"MOM","value":2.161e-5},{"N":46000,"series":"MOM","value":2.061e-5},{"N":47000,"series":"MOM","value":2.3e-5},{"N":48000,"series":"MOM","value":2.547e-5},{"N":49000,"series":"MOM","value":1.935e-5},{"N":50000,"series":"MOM","value":1.831e-5},
{"N":5000,"series":"MOMRAND","value":1.817e-4},{"N":6000,"series":"MOMRAND","value":1.615e-4},{"N":7000,"series":"MOMRAND","value":1.276e-4},{"N":8000,"series":"MOMRAND","value":1.024e-4},{"N":9000,"series":"MOMRAND","value":9.17e-5},{"N":10000,"series":"MOMRAND","value":7.84e-5},{"N":11000,"series":"MOMRAND","value":5.91e-5},{"N":12000,"series":"MOMRAND","value":7.96e-5},{"N":13000,"series":"MOMRAND","value":6.54e-5},{"N":14000,"series":"MOMRAND","value":6.05e-5},{"N":15000,"series":"MOMRAND","value":5.91e-5},{"N":16000,"series":"MOMRAND","value":5.68e-5},{"N":17000,"series":"MOMRAND","value":3.99e-5},{"N":18000,"series":"MOMRAND","value":5.05e-5},{"N":19000,"series":"MOMRAND","value":3.77e-5},{"N":20000,"series":"MOMRAND","value":4.49e-5},{"N":21000,"series":"MOMRAND","value":3.77e-5},{"N":22000,"series":"MOMRAND","value":3.57e-5},{"N":23000,"series":"MOMRAND","value":3.57e-5},{"N":24000,"series":"MOMRAND","value":3.77e-5},{"N":25000,"series":"MOMRAND","value":3.3e-5},{"N":26000,"series":"MOMRAND","value":3.28e-5},{"N":27000,"series":"MOMRAND","value":2.866e-5},{"N":28000,"series":"MOMRAND","value":2.588e-5},{"N":29000,"series":"MOMRAND","value":2.8e-5},{"N":30000,"series":"MOMRAND","value":2.71e-5},{"N":31000,"series":"MOMRAND","value":2.318e-5},{"N":32000,"series":"MOMRAND","value":2.912e-5},{"N":33000,"series":"MOMRAND","value":2.143e-5},{"N":34000,"series":"MOMRAND","value":2.143e-5},{"N":35000,"series":"MOMRAND","value":2.229e-5},{"N":36000,"series":"MOMRAND","value":2.283e-5},{"N":37000,"series":"MOMRAND","value":2.264e-5},{"N":38000,"series":"MOMRAND","value":1.905e-5},{"N":39000,"series":"MOMRAND","value":1.981e-5},{"N":40000,"series":"MOMRAND","value":1.789e-5},{"N":41000,"series":"MOMRAND","value":1.981e-5},{"N":42000,"series":"MOMRAND","value":1.653e-5},{"N":43000,"series":"MOMRAND","value":1.861e-5},{"N":44000,"series":"MOMRAND","value":1.789e-5},{"N":45000,"series":"MOMRAND","value":1.72e-5},{"N":46000,"series":"MOMRAND","value":1.614e-5},{"N":47000,"series":"MOMRAND","value":1.493e-5},{"N":48000,"series":"MOMRAND","value":1.505e-5},{"N":49000,"series":"MOMRAND","value":1.493e-5},{"N":50000,"series":"MOMRAND","value":1.553e-5},
{"N":5000,"series":"MOMCYC","value":2.045e-4},{"N":6000,"series":"MOMCYC","value":1.86e-4},{"N":7000,"series":"MOMCYC","value":1.38e-4},{"N":8000,"series":"MOMCYC","value":1.09e-4},{"N":9000,"series":"MOMCYC","value":1.008e-4},{"N":10000,"series":"MOMCYC","value":8.28e-5},{"N":11000,"series":"MOMCYC","value":7.96e-5},{"N":12000,"series":"MOMCYC","value":9.1e-5},{"N":13000,"series":"MOMCYC","value":7.48e-5},{"N":14000,"series":"MOMCYC","value":6.7e-5},{"N":15000,"series":"MOMCYC","value":6.05e-5},{"N":16000,"series":"MOMCYC","value":6.19e-5},{"N":17000,"series":"MOMCYC","value":5.46e-5},{"N":18000,"series":"MOMCYC","value":5.59e-5},{"N":19000,"series":"MOMCYC","value":4.59e-5},{"N":20000,"series":"MOMCYC","value":4.49e-5},{"N":21000,"series":"MOMCYC","value":4.49e-5},{"N":22000,"series":"MOMCYC","value":3.77e-5},{"N":23000,"series":"MOMCYC","value":3.86e-5},{"N":24000,"series":"MOMCYC","value":3.86e-5},{"N":25000,"series":"MOMCYC","value":3.63e-5},{"N":26000,"series":"MOMCYC","value":3.54e-5},{"N":27000,"series":"MOMCYC","value":3.28e-5},{"N":28000,"series":"MOMCYC","value":2.8e-5},{"N":29000,"series":"MOMCYC","value":3.86e-5},{"N":30000,"series":"MOMCYC","value":3.28e-5},{"N":31000,"series":"MOMCYC","value":2.866e-5},{"N":32000,"series":"MOMCYC","value":2.866e-5},{"N":33000,"series":"MOMCYC","value":2.547e-5},{"N":34000,"series":"MOMCYC","value":3.1e-5},{"N":35000,"series":"MOMCYC","value":2.547e-5},{"N":36000,"series":"MOMCYC","value":2.69e-5},{"N":37000,"series":"MOMCYC","value":2.69e-5},{"N":38000,"series":"MOMCYC","value":2.264e-5},{"N":39000,"series":"MOMCYC","value":2.045e-5},{"N":40000,"series":"MOMCYC","value":2.045e-5},{"N":41000,"series":"MOMCYC","value":1.965e-5},{"N":42000,"series":"MOMCYC","value":1.789e-5},{"N":43000,"series":"MOMCYC","value":2.045e-5},{"N":44000,"series":"MOMCYC","value":1.89e-5},{"N":45000,"series":"MOMCYC","value":2.045e-5},{"N":46000,"series":"MOMCYC","value":1.831e-5},{"N":47000,"series":"MOMCYC","value":1.59e-5},{"N":48000,"series":"MOMCYC","value":1.747e-5},{"N":49000,"series":"MOMCYC","value":1.627e-5},{"N":50000,"series":"MOMCYC","value":1.565e-5}
]
}
}
